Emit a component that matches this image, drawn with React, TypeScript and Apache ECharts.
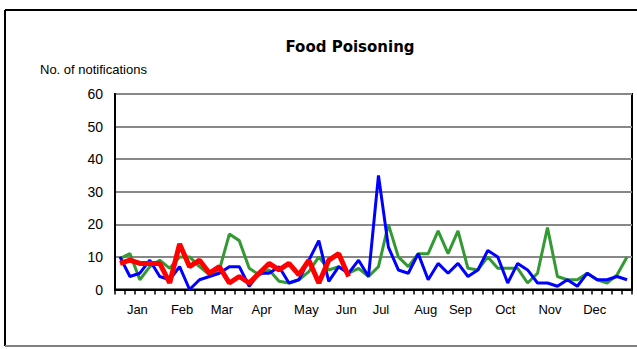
import React, { useEffect, useRef } from "react";
import * as echarts from "echarts";

const weeks: string[] = Array.from({ length: 52 }, (_, i) => String(i + 1));

const greenSeries: number[] = [
  9.5, 11, 3, 7, 9, 6.5, 10, 10, 7, 4.5, 6, 17, 15, 6.5, 4.5, 6, 2.5, 2, 3, 5.5,
  10, 6, 7, 5, 6.5, 4, 7, 20, 10, 7, 11, 11, 18, 11, 18, 6.5, 6, 10, 6.5, 6.5,
  6.5, 2, 5, 19, 4, 3, 3, 5, 3, 2, 4.5, 10,
];

const blueSeries: number[] = [
  10, 4, 5, 9, 4, 3, 7, 0, 3, 4, 5, 7, 7, 1, 5, 5, 7, 2, 3, 9, 15, 2.5, 7, 5, 9,
  4, 35, 13, 6, 5, 11, 3, 8, 5, 8, 4, 6, 12, 10, 2, 8, 6, 2, 2, 1, 3, 1, 5, 3, 3,
  4, 3,
];

const redSeries: number[] = [
  8, 9, 8, 8, 8, 2, 14, 7, 9, 5, 7, 2, 4, 2, 5, 8, 6, 8, 4.5, 9, 2, 9, 11, 4,
];

const monthNames: string[] = [
  "Jan", "Feb", "Mar", "Apr", "May", "Jun", "Jul", "Aug", "Sep", "Oct", "Nov", "Dec",
];
// half-week slot (0..103) on which each month label is centred
const monthSlots: number[] = [4, 13, 21, 29, 38, 46, 53, 62, 69, 78, 87, 96];

const yTicks: number[] = [0, 10, 20, 30, 40, 50, 60];

export default function App() {
  const ref = useRef<HTMLDivElement>(null);

  useEffect(() => {
    document.body.style.margin = "0";
    if (!ref.current) return;
    const chart = echarts.init(ref.current, null, { renderer: "svg" });
    const slots = Array.from({ length: 104 }, (_, j) => {
      const k = monthSlots.indexOf(j);
      return k >= 0 ? monthNames[k] : "";
    });
    const font = "Liberation Sans";
    chart.setOption({
      animation: false,
      backgroundColor: "#ffffff",
      title: {
        text: "Food Poisoning",
        left: 345,
        top: 34,
        textAlign: "center",
        textStyle: {
          fontFamily: "DejaVu Sans",
          fontWeight: "bold",
          fontSize: 15,
          color: "#000",
        },
      },
      graphic: [
        {
          type: "line",
          shape: { x1: 5, y1: 10, x2: 640, y2: 10 },
          style: { stroke: "#000", lineWidth: 2 },
        },
        {
          type: "line",
          shape: { x1: 5, y1: 10, x2: 5, y2: 346 },
          style: { stroke: "#000", lineWidth: 2 },
        },
        {
          type: "line",
          shape: { x1: 5, y1: 346, x2: 640, y2: 346 },
          style: { stroke: "#808080", lineWidth: 2 },
        },
        {
          type: "text",
          left: 40,
          top: 63,
          style: {
            text: "No. of notifications",
            fontFamily: font,
            fontSize: 13,
            fill: "#000",
          },
        },
      ],
      grid: {
        left: 115,
        right: 5,
        top: 94,
        bottom: 59.5,
        show: true,
        borderColor: "#000",
        borderWidth: 2,
        backgroundColor: "transparent",
      },
      xAxis: [
        {
          type: "category",
          data: weeks,
          boundaryGap: true,
          axisLine: { show: true, lineStyle: { color: "#000", width: 2 } },
          axisTick: {
            show: true,
            interval: 0,
            length: 5,
            lineStyle: { color: "#000", width: 1.5 },
          },
          axisLabel: { show: false },
          splitLine: { show: false },
        },
        {
          type: "category",
          data: slots,
          position: "bottom",
          boundaryGap: true,
          axisLine: { show: false },
          axisTick: { show: false },
          axisLabel: {
            show: true,
            interval: 0,
            margin: 13,
            fontFamily: font,
            fontSize: 13,
            color: "#000",
          },
          splitLine: { show: false },
        },
      ],
      yAxis: {
        type: "value",
        min: yTicks[0],
        max: yTicks[yTicks.length - 1],
        interval: 10,
        axisLine: { show: true, lineStyle: { color: "#000", width: 2 } },
        axisTick: { show: false },
        axisLabel: {
          margin: 12,
          fontFamily: font,
          fontSize: 14,
          color: "#000",
        },
        splitLine: { show: true, lineStyle: { color: "#888888", width: 1.8 } },
      },
      series: [
        {
          type: "line",
          name: "green",
          data: greenSeries,
          xAxisIndex: 0,
          symbol: "none",
          lineStyle: { color: "#339933", width: 3 },
          itemStyle: { color: "#339933" },
        },
        {
          type: "line",
          name: "blue",
          data: blueSeries,
          xAxisIndex: 0,
          symbol: "none",
          lineStyle: { color: "#0000ff", width: 3 },
          itemStyle: { color: "#0000ff" },
        },
        {
          type: "line",
          name: "red",
          data: redSeries,
          xAxisIndex: 0,
          symbol: "none",
          lineStyle: { color: "#ff0000", width: 5 },
          itemStyle: { color: "#ff0000" },
        },
      ],
    });
    return () => chart.dispose();
  }, []);

  return <div ref={ref} style={{ width: 637, height: 349 }} />;
}
